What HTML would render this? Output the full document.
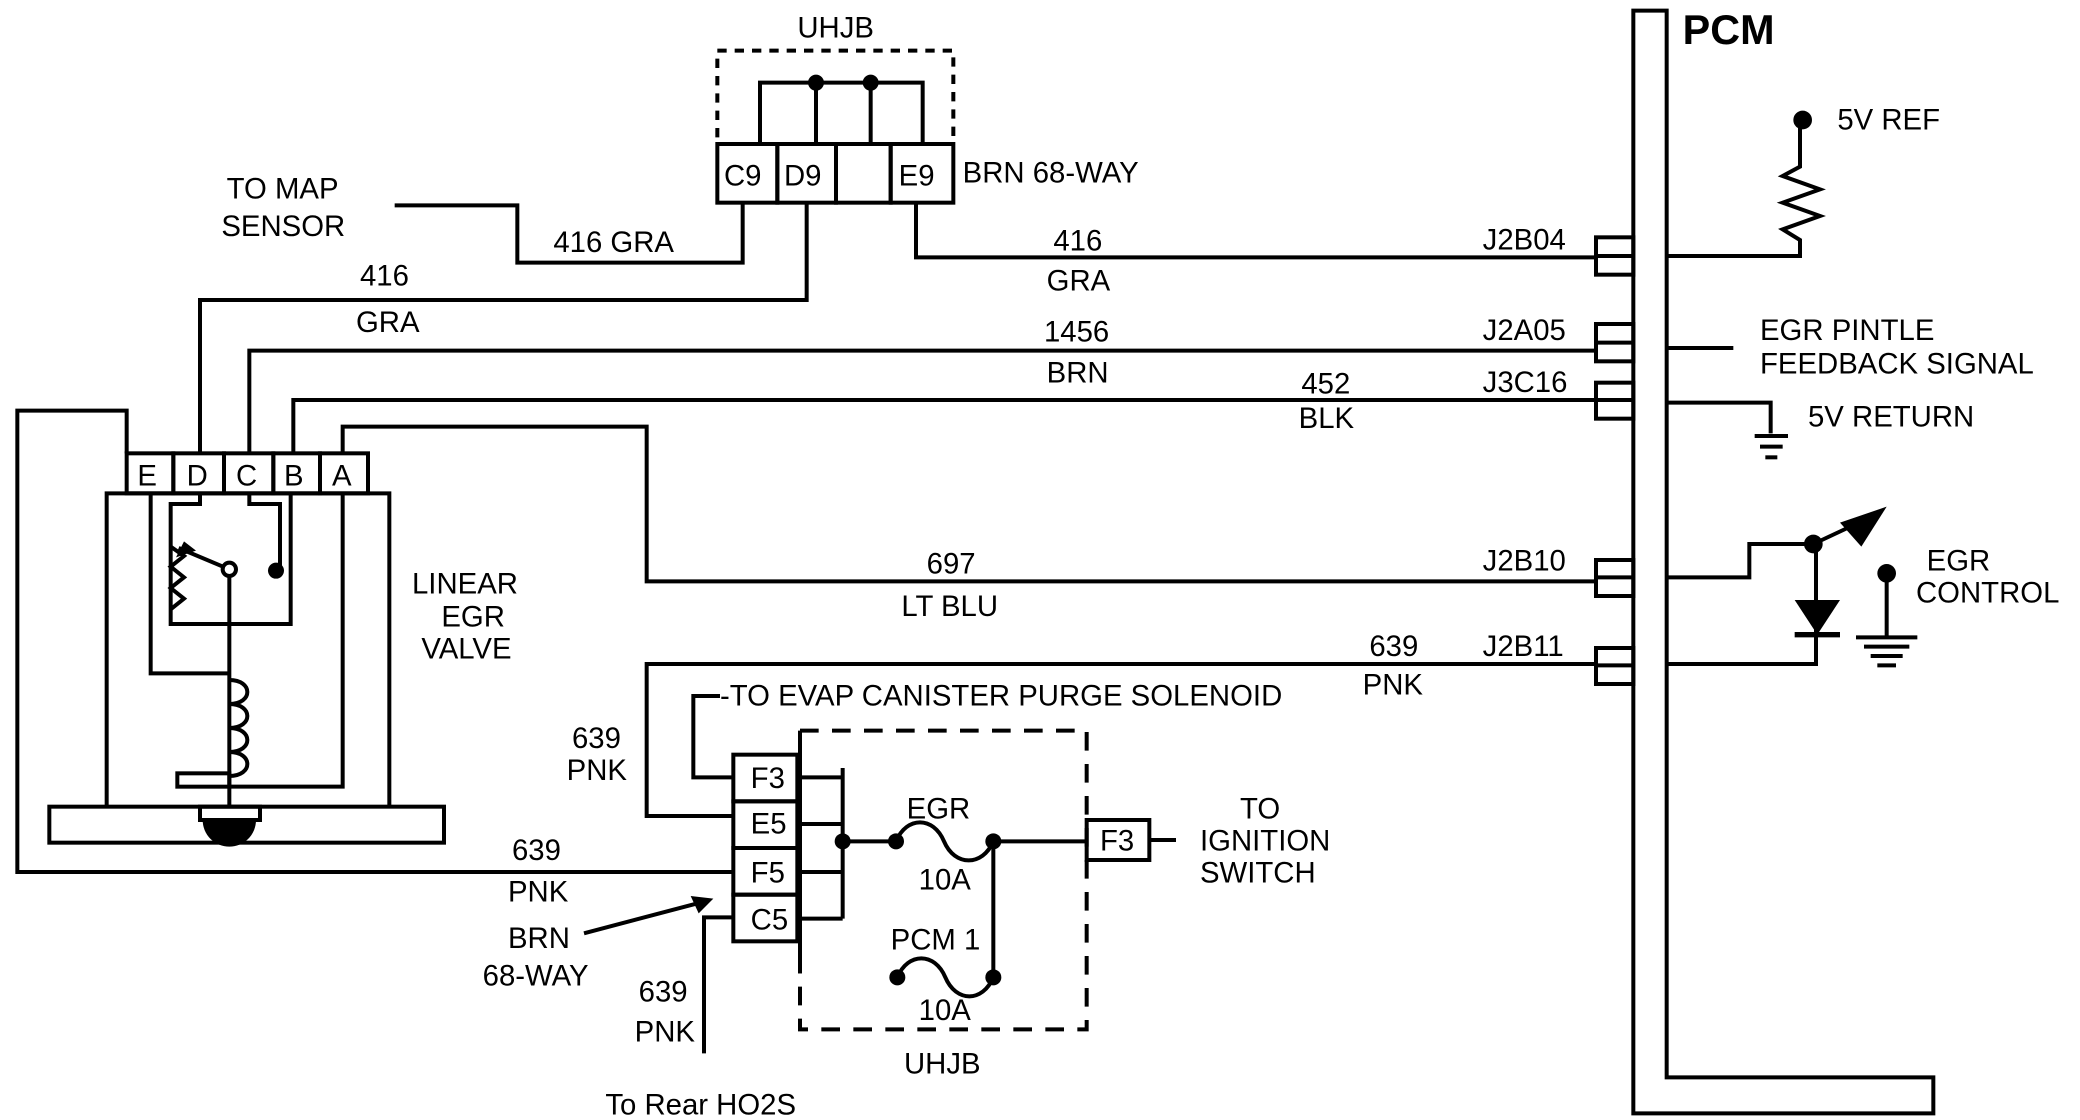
<!DOCTYPE html>
<html><head><meta charset="utf-8"><style>
html,body{margin:0;padding:0;background:#fff;}
svg{display:block;}
text{font-family:"Liberation Sans",sans-serif;font-size:22px;fill:#000;}
</style></head><body>
<svg width="2080" height="1120" viewBox="0 0 1560 840" preserveAspectRatio="none" xmlns="http://www.w3.org/2000/svg">
<g fill="none" stroke="#000" stroke-width="3">
<path d="M1225,8 H1250 V808 H1450 V835 H1225 Z"/>
<rect x="1197" y="178" width="28" height="28"/><line x1="1197" y1="192" x2="1225" y2="192"/>
<rect x="1197" y="243" width="28" height="28"/><line x1="1197" y1="257" x2="1225" y2="257"/>
<rect x="1197" y="287" width="28" height="27"/><line x1="1197" y1="300" x2="1225" y2="300"/>
<rect x="1197" y="420" width="28" height="27"/><line x1="1197" y1="433" x2="1225" y2="433"/>
<rect x="1197" y="486" width="28" height="27"/><line x1="1197" y1="499" x2="1225" y2="499"/>
<path d="M1250,192 H1350 V180 L1337,172 L1365,162 L1337,152 L1365,142 L1337,132 L1350,125 V90"/>
<line x1="1250" y1="261" x2="1300" y2="261"/>
<path d="M1250,302 H1328 V325"/>
<line x1="1316" y1="327" x2="1341" y2="327"/><line x1="1320" y1="335" x2="1337" y2="335"/><line x1="1324" y1="343" x2="1333" y2="343"/>
<path d="M1250,433 H1312 V408 H1360"/>
<line x1="1360" y1="408" x2="1392" y2="393"/>
<path d="M1250,498 H1362 V410"/>
<line x1="1346" y1="476" x2="1380" y2="476" stroke-width="4"/>
<line x1="1415" y1="430" x2="1415" y2="478"/>
<line x1="1392" y1="478" x2="1438" y2="478"/><line x1="1398" y1="485" x2="1432" y2="485"/><line x1="1403" y1="492" x2="1427" y2="492"/><line x1="1408" y1="499" x2="1422" y2="499"/>
<rect x="538" y="38" width="177" height="70" stroke-dasharray="7,6"/>
<rect x="538" y="108" width="45" height="44"/><rect x="583" y="108" width="44" height="44"/><rect x="627" y="108" width="41" height="44"/><rect x="668" y="108" width="47" height="44"/>
<path d="M570,108 V62 H692 V108"/><line x1="612" y1="62" x2="612" y2="108"/><line x1="653" y1="62" x2="653" y2="108"/>
<path d="M687,152 V193 H1197"/>
<path d="M296,154 H388 V197 H557 V152"/>
<path d="M150,340 V225 H605 V152"/>
<path d="M187,340 V263 H1197"/>
<path d="M220,340 V300 H1197"/>
<path d="M257,340 V320 H485 V436 H1197"/>
<path d="M550,612 H485 V498 H1197"/>
<path d="M550,583 H520 V522 H540"/>
<path d="M95,340 V308 H13 V654 H550"/>
<path d="M550,688 H528 V790"/>
<line x1="438" y1="700" x2="525" y2="677"/>
<rect x="550" y="566" width="48" height="35"/><rect x="550" y="601" width="48" height="35"/><rect x="550" y="636" width="48" height="35"/><rect x="550" y="671" width="48" height="35"/>
<path d="M598,583 H632 M598,618 H632 M598,654 H632 M598,689 H632 M632,576 V689"/>
<path d="M600,548 H815 V772 H600 V700" stroke-dasharray="14,10"/>
<line x1="600" y1="548" x2="600" y2="730"/>
<path d="M632,631 H672 M745,631 H815 M745,631 V733"/>
<path d="M672,631 C680,612 700,612 708,631 C716,650 737,650 745,631"/>
<path d="M673,733 C681,714 701,714 709,733 C717,752 737,752 745,733"/>
<rect x="815" y="615" width="47" height="30"/><line x1="862" y1="630" x2="882" y2="630"/>
<rect x="95" y="340" width="35" height="30"/><rect x="130" y="340" width="38" height="30"/><rect x="168" y="340" width="37" height="30"/><rect x="205" y="340" width="35" height="30"/><rect x="240" y="340" width="36" height="30"/>
<path d="M80,605 V370 H292 V605"/>
<rect x="37" y="605" width="296" height="27"/>
<path d="M113,370 V505 H172"/>
<path d="M150,370 V378 H128 V468 H218 V370"/>
<path d="M187,370 V378 H210 V428"/>
<path d="M128,410 L138,417 L128,425 L138,433 L128,441 L138,449 L128,457"/>
<line x1="172" y1="427" x2="134" y2="411"/>
<circle cx="172" cy="427" r="5" fill="#fff"/>
<line x1="172" y1="432" x2="172" y2="605"/>
<path d="M257,370 V590 H172"/>
<rect x="133" y="580" width="39" height="10"/>
<path d="M172,510 C190,510 190,528 172,528 M172,528 C190,528 190,546 172,546 M172,546 C190,546 190,564 172,564 M172,564 C190,564 190,582 172,582"/>
<rect x="150" y="605" width="45" height="10"/>
</g>
<g fill="#000">
<circle cx="1352" cy="90" r="7"/>
<circle cx="1360" cy="408" r="7"/>
<polygon points="1415,380 1380,392 1396,410"/>
<polygon points="1346,450 1380,450 1363,476"/>
<circle cx="1415" cy="430" r="7"/>
<circle cx="612" cy="62" r="6"/><circle cx="653" cy="62" r="6"/>
<circle cx="632" cy="631" r="6"/><circle cx="672" cy="631" r="6"/><circle cx="745" cy="631" r="6"/>
<circle cx="673" cy="733" r="6"/><circle cx="745" cy="733" r="6"/>
<circle cx="207" cy="428" r="6"/>
<polygon points="138,406 132,418 147,413"/>
<polygon points="535,674 518,672 524,685"/>
<path d="M152,615 H192 A20,20 0 0 1 152,615 Z"/>
</g>
<text x="1262" y="33" style="font-size:31px;font-weight:bold">PCM</text>
<text x="1378" y="97">5V REF</text>
<text x="1320" y="255">EGR PINTLE</text>
<text x="1320" y="280">FEEDBACK SIGNAL</text>
<text x="1356" y="320">5V  RETURN</text>
<text x="1445" y="428">EGR</text>
<text x="1437" y="452">CONTROL</text>
<text x="1112" y="187">J2B04</text>
<text x="1112" y="255">J2A05</text>
<text x="1112" y="294">J3C16</text>
<text x="1112" y="428">J2B10</text>
<text x="1112" y="492">J2B11</text>
<text x="598" y="28">UHJB</text>
<text x="543" y="139">C9</text><text x="588" y="139">D9</text><text x="674" y="139">E9</text>
<text x="722" y="137">BRN 68-WAY</text>
<text x="170" y="149">TO MAP</text>
<text x="166" y="177">SENSOR</text>
<text x="415" y="189">416 GRA</text>
<text x="270" y="214">416</text>
<text x="267" y="249">GRA</text>
<text x="790" y="188">416</text><text x="785" y="218">GRA</text>
<text x="783" y="256">1456</text><text x="785" y="287">BRN</text>
<text x="976" y="295">452</text><text x="974" y="321">BLK</text>
<text x="695" y="430">697</text><text x="676" y="462">LT BLU</text>
<text x="1027" y="492">639</text><text x="1022" y="521">PNK</text>
<text x="103" y="364">E</text><text x="140" y="364">D</text><text x="177" y="364">C</text><text x="213" y="364">B</text><text x="249" y="364">A</text>
<text x="309" y="445">LINEAR</text><text x="331" y="470">EGR</text><text x="316" y="494">VALVE</text>
<text x="540" y="529">-TO EVAP CANISTER PURGE SOLENOID</text>
<text x="429" y="561">639</text><text x="425" y="585">PNK</text>
<text x="563" y="591">F3</text><text x="563" y="625">E5</text><text x="563" y="662">F5</text><text x="563" y="697">C5</text>
<text x="384" y="645">639</text><text x="381" y="676">PNK</text>
<text x="381" y="711">BRN</text><text x="362" y="739">68-WAY</text>
<text x="479" y="751">639</text><text x="476" y="781">PNK</text>
<text x="454" y="836">To Rear HO2S</text>
<text x="680" y="614">EGR</text><text x="689" y="667">10A</text>
<text x="668" y="712">PCM 1</text><text x="689" y="765">10A</text>
<text x="678" y="805">UHJB</text>
<text x="825" y="638">F3</text>
<text x="930" y="614">TO</text><text x="900" y="638">IGNITION</text><text x="900" y="662">SWITCH</text>
</svg>
</body></html>
